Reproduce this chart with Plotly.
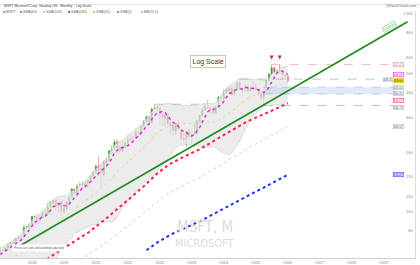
import numpy as np
import pandas as pd
import plotly.graph_objects as go

# ---------------- data ----------------
# monthly closes before the visible candles (used for the long moving averages)
hist_closes = [
    26.28, 25.16, 24.17, 25.30, 25.80, 24.84, 25.61, 27.38, 25.73, 25.70, 27.68, 26.15,  # 2005
    28.15, 26.87, 27.21, 24.15, 22.65, 23.30, 24.06, 25.70, 27.35, 28.71, 29.36, 29.86,  # 2006
    30.86, 28.17, 27.87, 29.94, 30.69, 29.47, 28.99, 28.73, 29.46, 36.81, 33.60, 35.60,  # 2007
    32.60, 27.20, 28.38, 28.52, 28.32, 27.51, 25.72, 27.29, 26.69, 22.33, 20.22, 19.44,  # 2008
    17.10, 16.15, 18.37, 20.26, 20.89, 23.77, 23.52, 24.65, 25.72, 27.73, 29.41, 30.48,  # 2009
    28.18, 28.67, 29.29, 30.54, 25.80, 23.01, 25.81, 23.47, 24.49, 26.67, 25.26, 27.91,  # 2010
    27.73, 26.58, 25.39, 25.92, 25.01, 26.00, 27.40, 26.60, 24.89, 26.63, 25.58, 25.96,  # 2011
    29.53, 31.74, 32.26, 32.02, 29.19, 30.59, 29.47, 30.82, 29.76, 28.54, 26.62, 26.71,  # 2012
    27.45, 27.80, 28.61, 33.10, 34.90, 34.54, 31.84, 33.40, 33.28, 35.41, 38.13, 37.41,  # 2013
    37.84, 38.31, 40.99, 40.40, 40.94, 41.70, 43.16, 45.43, 46.36, 46.95, 47.81, 46.45,  # 2014
    40.40, 43.85, 40.66, 48.64, 46.86, 44.15, 46.70, 43.52, 44.26, 52.64, 54.35, 55.48,  # 2015
    55.09, 50.88, 55.23, 49.87, 53.00, 51.17, 56.68, 57.46, 57.60, 59.92, 60.26, 62.14,  # 2016
]
hist_start = "2005-01-01"

candle_start = "2017-01-01"
opens = [
    62.79, 64.36, 64.13, 65.81, 68.68, 70.24, 69.33, 73.10, 74.71, 74.71, 83.68, 83.60,
    86.13, 94.79, 93.99, 90.47, 93.21, 98.10, 98.10, 106.03, 110.85, 114.75, 107.05, 113.00,
    99.55, 103.78, 112.89, 118.95, 130.53, 123.85, 136.63, 137.00, 136.61, 139.66, 144.26, 151.81,
    158.78, 170.43, 165.31, 153.00, 176.25, 182.54, 203.14, 211.52, 225.51, 213.49, 204.29, 214.51,
    222.53, 235.06, 235.90, 238.47, 253.40, 251.23, 270.69, 286.36, 302.87, 282.12, 331.36, 335.13,
    335.35, 310.41, 296.40, 309.37, 277.71, 275.20, 256.39, 277.82, 258.87, 235.41, 234.60, 253.87,
    243.08, 248.00, 250.76, 286.52, 306.97, 325.93, 339.19, 335.19, 331.31, 316.28, 339.79, 376.76,
    373.86, 401.83, 411.27, 423.95, 392.61, 415.60, 448.66, 420.79, 417.91, 428.45, 409.01, 421.57,
    425.53, 418.38, 398.82, 374.65, 431.11, 457.14, 496.47, 535.00, 503.79, 514.80, 519.00, 488.00,
    484.00,
]
highs = [
    65.91, 65.24, 66.19, 69.14, 70.74, 72.89, 74.42, 74.96, 75.97, 86.20, 85.06, 87.50,
    95.45, 96.07, 97.24, 97.90, 99.99, 102.69, 111.15, 112.78, 115.29, 116.18, 112.24, 113.42,
    107.90, 113.24, 120.82, 131.37, 130.65, 138.40, 141.68, 140.94, 142.37, 145.67, 152.50, 159.55,
    174.05, 190.70, 175.00, 180.40, 187.51, 204.40, 216.38, 231.15, 232.86, 225.21, 228.12, 227.18,
    242.64, 246.13, 241.05, 263.19, 254.35, 271.65, 290.15, 305.84, 305.32, 332.00, 349.67, 344.30,
    338.00, 315.12, 315.95, 315.11, 290.88, 277.69, 282.00, 294.18, 267.45, 251.04, 255.33, 263.92,
    249.83, 276.76, 289.27, 308.93, 335.94, 351.47, 366.78, 338.54, 340.86, 346.20, 384.30, 378.16,
    415.32, 420.82, 430.82, 430.82, 433.60, 456.17, 468.35, 427.46, 441.85, 439.74, 431.39, 456.16,
    448.38, 418.78, 402.15, 395.95, 462.52, 500.76, 555.45, 536.00, 520.50, 555.00, 521.00, 495.00,
    489.00,
]
lows = [
    61.95, 62.75, 63.62, 64.85, 67.14, 67.94, 68.02, 71.28, 72.92, 73.71, 82.24, 80.70,
    85.50, 83.83, 87.08, 87.51, 93.00, 97.26, 98.00, 104.84, 107.23, 100.11, 99.35, 93.96,
    97.20, 102.35, 108.80, 118.10, 123.04, 119.01, 134.67, 130.78, 134.51, 133.22, 143.37, 146.65,
    156.51, 152.00, 132.52, 150.36, 173.80, 181.35, 196.60, 203.78, 196.25, 199.62, 200.12, 209.11,
    211.94, 227.88, 224.26, 238.05, 238.07, 243.00, 269.60, 283.74, 281.62, 280.25, 326.37, 317.25,
    276.05, 271.52, 270.00, 270.00, 246.44, 241.51, 245.94, 260.66, 232.73, 219.13, 213.43, 233.87,
    219.35, 245.47, 245.61, 275.37, 303.40, 322.50, 327.00, 311.55, 309.45, 311.21, 339.65, 362.90,
    366.50, 397.22, 397.39, 393.98, 385.58, 408.50, 415.85, 385.58, 401.58, 406.00, 404.18, 420.66,
    410.72, 386.32, 367.24, 344.79, 420.00, 456.89, 489.00, 497.45, 492.37, 505.00, 464.00, 470.00,
    452.00,
]
closes = [
    64.65, 63.98, 65.86, 68.46, 69.84, 68.93, 72.70, 74.77, 74.49, 83.18, 84.17, 85.54,
    95.01, 93.77, 91.27, 93.52, 98.84, 98.61, 106.08, 112.33, 114.37, 106.81, 110.89, 101.57,
    104.43, 112.03, 117.94, 130.60, 123.68, 133.96, 136.27, 137.86, 139.03, 143.37, 151.38, 157.70,
    170.23, 162.01, 157.71, 179.21, 183.25, 203.51, 205.01, 225.53, 210.33, 202.47, 214.07, 222.42,
    231.96, 232.38, 235.77, 252.18, 249.68, 270.90, 284.91, 301.88, 281.92, 331.62, 330.59, 336.32,
    310.98, 298.79, 308.31, 277.52, 271.87, 256.83, 280.74, 261.47, 232.90, 232.13, 255.14, 239.82,
    247.81, 249.42, 288.30, 307.26, 328.39, 340.54, 335.92, 327.76, 315.75, 338.11, 378.91, 376.04,
    397.58, 413.64, 420.72, 389.33, 415.13, 446.95, 418.35, 417.14, 430.30, 406.35, 423.46, 421.50,
    415.06, 396.99, 375.39, 395.26, 460.36, 497.41, 533.50, 506.69, 517.95, 517.81, 492.01, 483.62,
    459.00,
]

ma_periods = {"red": 60, "gray": 100, "blue": 200, "yellow": 20, "magenta": 5}
bb_period, bb_mult = 20, 2

# horizontal levels
level_2021_high = 349.67
level_2021_span = ["2021-11-01", "2023-06-15"]
level_2024_high = 468.35
level_2024_start = "2024-07-01"
level_ath = 555.45
level_ath_start = "2025-07-01"
level_2025_low = 344.79
level_2025_low_start = "2025-04-01"
zone_low, zone_high = 394.0, 426.0
zone_start = "2025-04-01"
levels_end = "2029-06-10"

# trend line through the 2022 and 2025 lows, extended
trend_dates = ["2017-09-01", "2029-10-01"]
trend_prices = [68.0, 912.0]

peak_dates = ["2025-07-01", "2025-10-01"]
peak_prices = [555.45, 555.00]

y_ticks = [60, 80, 100, 120, 150, 200, 300, 400, 500, 600, 800, 1000]

# ---------------- derived ----------------
cdates = pd.date_range(candle_start, periods=len(closes), freq="MS")
hdates = pd.date_range(hist_start, periods=len(hist_closes), freq="MS")
all_close = pd.Series(hist_closes + closes, index=hdates.append(cdates))
vis = all_close.index >= pd.Timestamp(candle_start)

def sma(n):
    return all_close.rolling(n).mean()[vis]

mid = all_close.rolling(bb_period).mean()
sd = all_close.rolling(bb_period).std(ddof=0)
bb_up = (mid + bb_mult * sd)[vis]
bb_lo = (mid - bb_mult * sd)[vis]

# ---------------- figure ----------------
W, H = 420, 265
ML, MR, MT, MB = 0, 5, 11, 4
PW, PH = W - ML - MR, H - MT - MB

def paper_x(xp):
    return (xp - ML) / PW

def paper_y(yp):
    return (H - MB - yp) / PH

fig = go.Figure()

# Bollinger band fill
fig.add_trace(go.Scatter(x=bb_lo.index, y=bb_lo.values, mode="lines",
                         line=dict(color="rgba(185,185,185,0.8)", width=0.5),
                         hoverinfo="skip", showlegend=False))
fig.add_trace(go.Scatter(x=bb_up.index, y=bb_up.values, mode="lines",
                         line=dict(color="rgba(185,185,185,0.8)", width=0.5),
                         fill="tonexty", fillcolor="rgba(228,228,228,0.7)",
                         hoverinfo="skip", showlegend=False))

# zone
zx = [pd.Timestamp(zone_start), pd.Timestamp(levels_end)]
fig.add_trace(go.Scatter(x=zx, y=[zone_low, zone_low], mode="lines",
                         line=dict(color="#9fb0d0", width=0.6, dash="dash"), showlegend=False))
fig.add_trace(go.Scatter(x=zx, y=[zone_high, zone_high], mode="lines",
                         line=dict(color="#9fb0d0", width=0.6, dash="dash"),
                         fill="tonexty", fillcolor="rgba(170,195,240,0.35)", showlegend=False))

def hline(x0, x1, yv, color, width=0.7):
    fig.add_trace(go.Scatter(x=[pd.Timestamp(x0), pd.Timestamp(x1)], y=[yv, yv], mode="lines",
                             line=dict(color=color, width=width, dash="dash"), showlegend=False))

hline(level_2021_span[0], level_2021_span[1], level_2021_high, "#a8a8a8")
hline(level_2024_start, levels_end, level_2024_high, "#a8a8a8")
hline(level_2025_low_start, levels_end, level_2025_low, "#a8a8a8")
hline(level_ath_start, levels_end, level_ath, "#f4a0a0")

# moving averages
ma_style = {
    "gray": dict(color="#c4c4c4", width=0.8, dash="dot"),
    "yellow": dict(color="#d8cf7a", width=0.7, dash="dot"),
    "red": dict(color="#ff1f45", width=2.0, dash="dot"),
    "blue": dict(color="#2030ff", width=2.0, dash="dot"),
    "magenta": dict(color="#e01ee0", width=1.4, dash="dot"),
}
ma_series = {}
for key in ["gray", "yellow", "red", "blue", "magenta"]:
    s = sma(ma_periods[key])
    ma_series[key] = s
    fig.add_trace(go.Scatter(x=s.index, y=s.values, mode="lines", line=ma_style[key],
                             showlegend=False, connectgaps=False))

# trend line
fig.add_trace(go.Scatter(x=pd.to_datetime(trend_dates), y=trend_prices, mode="lines",
                         line=dict(color="#1f8a1f", width=1.6), showlegend=False))

# candles
fig.add_trace(go.Candlestick(
    x=cdates, open=opens, high=highs, low=lows, close=closes,
    increasing=dict(line=dict(color="#2f9e1f", width=0.6), fillcolor="#35b022"),
    decreasing=dict(line=dict(color="#f06a88", width=0.6), fillcolor="#e8174a"),
    showlegend=False))

# peak markers
fig.add_trace(go.Scatter(x=pd.to_datetime(peak_dates), y=[p * 1.06 for p in peak_prices],
                         mode="markers", marker=dict(symbol="arrow-down", size=4, color="#e02020"),
                         showlegend=False))

ly0 = np.log10(58.5)
ly1 = np.log10(1034)
fig.update_layout(
    width=W, height=H, margin=dict(l=ML, r=MR, t=MT, b=MB),
    paper_bgcolor="white", plot_bgcolor="white",
    font=dict(family="Liberation Sans, Arial", color="#555"),
    xaxis=dict(type="date", range=["2017-01-01", "2029-12-25"], showgrid=False,
               dtick="M12", tickformat="%Y", tickfont=dict(size=4, color="#888"),
               showline=True, linecolor="#cfcfcf", linewidth=1, ticks="", ticklen=0,
               rangeslider=dict(visible=False), fixedrange=True),
    yaxis=dict(type="log", range=[ly0, ly1], side="right", showgrid=False,
               tickvals=y_ticks, ticktext=[f"{v:,}" for v in y_ticks],
               tickfont=dict(size=4, color="#888"), ticklabelposition="inside",
               showline=True, linecolor="#dcdcdc", zeroline=False),
    showlegend=False,
)

ann = []
# Log Scale box
ann.append(dict(x=paper_x(208), y=paper_y(56), xref="paper", yref="paper", text="Log Scale",
                showarrow=False, font=dict(size=7, color="#333"), bgcolor="white",
                bordercolor="#b8c8f0", borderwidth=1, borderpad=1.5))
# watermark
wm_font = "Liberation Sans Narrow, Arial Narrow, DejaVu Sans Condensed, sans-serif"
ann.append(dict(x=paper_x(205), y=paper_y(241), xref="paper", yref="paper", text="MSFT, M",
                showarrow=False, font=dict(size=15, color="#dcdcdc", family=wm_font)))
ann.append(dict(x=paper_x(205), y=paper_y(255), xref="paper", yref="paper", text="MICROSOFT",
                showarrow=False, font=dict(size=11, color="#dcdcdc", family=wm_font)))
# title line
ann.append(dict(x=paper_x(2), y=paper_y(2), xref="paper", yref="paper", xanchor="left",
                text="MSFT Microsoft Corp. Nasdaq GS · Monthly · Log Scale", showarrow=False,
                font=dict(size=3.5, color="#444")))
ann.append(dict(x=paper_x(418), y=paper_y(2), xref="paper", yref="paper", xanchor="right",
                text="@StockCharts.com", showarrow=False, font=dict(size=3.5, color="#666")))
# legend row
legend_items = [
    ("#2f9e1f", "MSFT", 1),
    ("#ff1f45", f"SMA({ma_periods['red']})", 18),
    ("#b0b0b0", f"SMA({ma_periods['gray']})", 41),
    ("#2030ff", f"SMA({ma_periods['blue']})", 66),
    ("#b8ae40", f"SMA({ma_periods['yellow']})", 91),
    ("#e01ee0", f"SMA({ma_periods['magenta']})", 115),
    ("#b0b0b0", f"BB({bb_period},{bb_mult})", 139),
]
for col, txt, xp in legend_items:
    ann.append(dict(x=paper_x(xp), y=paper_y(7.5), xref="paper", yref="paper", xanchor="left",
                    text=f"<span style='color:{col}'>■</span> {txt}", showarrow=False,
                    font=dict(size=3.5, color="#666")))
# bottom note
ann.append(dict(x=paper_x(12), y=paper_y(255), xref="paper", yref="paper", xanchor="left",
                text="Prices are split and dividend adjusted", showarrow=False,
                font=dict(size=3, color="#666"), bgcolor="white"))
# trend line tag
ann.append(dict(x=paper_x(397), y=paper_y(21), xref="paper", yref="paper", text="Uptrend",
                textangle=-30, showarrow=False, font=dict(size=3.5, color="#7cc47c"),
                bgcolor="rgba(235,250,235,0.9)", bordercolor="#8fd08f", borderwidth=0.6,
                borderpad=0.5))

# right side value labels
def vlabel(val, color, fill="white", txtcol=None, xp=404, shift=0):
    ann.append(dict(x=paper_x(xp), y=np.log10(val), xref="paper", yref="y", yshift=shift,
                    text=f"{val:.2f}", showarrow=False, font=dict(size=3, color=txtcol or color),
                    bgcolor=fill, bordercolor=color, borderwidth=0.5, borderpad=0))

vlabel(level_ath, "#f08080")
vlabel(ma_series["magenta"].iloc[-1], "#e01ee0")
vlabel(closes[-1], "#e0c000", fill="#ffe000", txtcol="#333")
vlabel(zone_high, "#9fb0d0", txtcol="#555")
vlabel(zone_low, "#9fb0d0", txtcol="#555")
vlabel(ma_series["red"].iloc[-1], "#ff1f45", shift=3)
vlabel(level_2025_low, "#a8a8a8", txtcol="#555", shift=-2)
vlabel(ma_series["gray"].iloc[-1], "#a8a8a8", txtcol="#555")
vlabel(ma_series["blue"].iloc[-1], "#2030ff", fill="#dde0ff")
vlabel(level_2024_high, "#bbbbbb", txtcol="#555", xp=394)

fig.update_layout(annotations=ann)
fig.add_shape(type="line", xref="paper", yref="paper", x0=0, x1=paper_x(420),
              y0=paper_y(4.5), y1=paper_y(4.5), line=dict(color="#e2e2e2", width=1))

fig.write_html("out.html")
